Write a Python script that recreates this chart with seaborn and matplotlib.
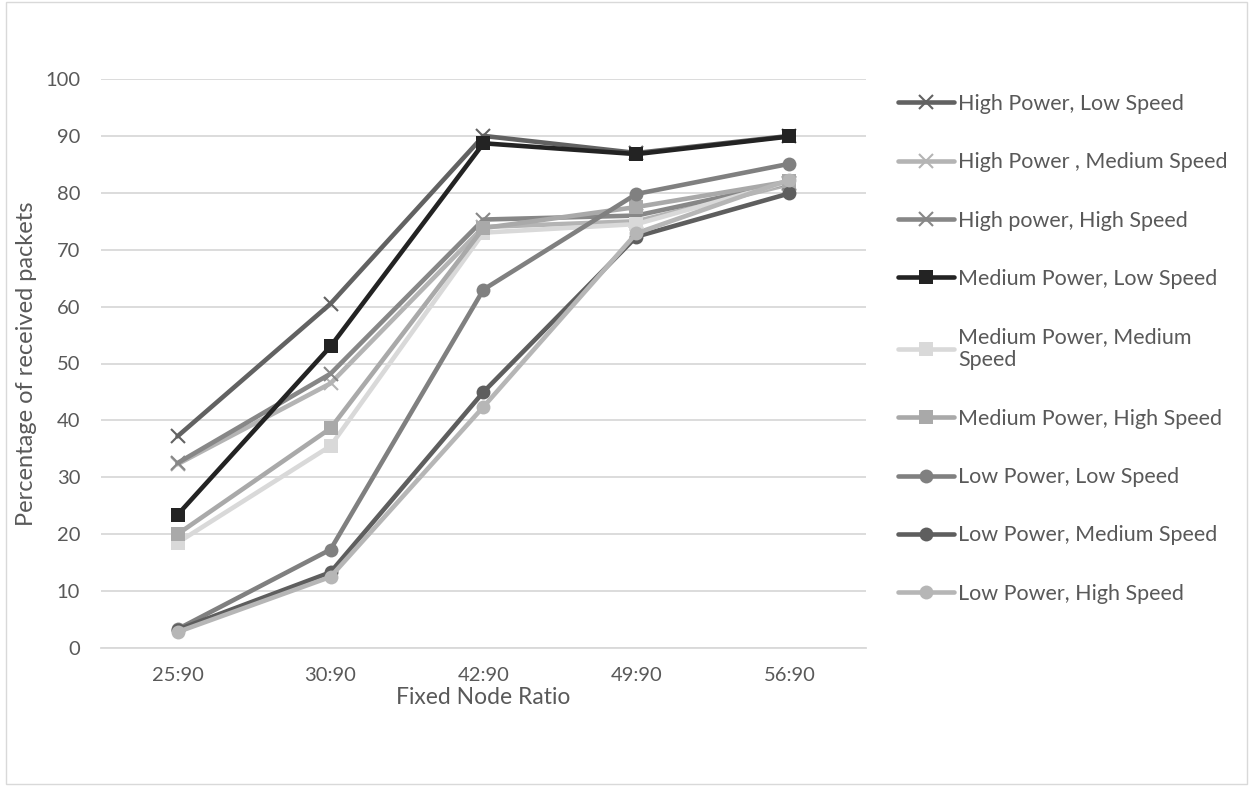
import matplotlib
matplotlib.use("Agg")
import matplotlib.pyplot as plt
import seaborn as sns
import pandas as pd
from matplotlib.patches import Rectangle

categories = ["25:90", "30:90", "42:90", "49:90", "56:90"]
series_names = [
    "High Power, Low Speed",
    "High Power , Medium Speed",
    "High power, High Speed",
    "Medium Power, Low Speed",
    "Medium Power, Medium Speed",
    "Medium Power, High Speed",
    "Low Power, Low Speed",
    "Low Power, Medium Speed",
    "Low Power, High Speed",
]
legend_labels = [
    "High Power, Low Speed",
    "High Power , Medium Speed",
    "High power, High Speed",
    "Medium Power, Low Speed",
    "Medium Power, Medium\nSpeed",
    "Medium Power, High Speed",
    "Low Power, Low Speed",
    "Low Power, Medium Speed",
    "Low Power, High Speed",
]
hp_ls = [37.2, 60.5, 90.0, 87.0, 90.0]
hp_ms = [32.3, 46.5, 74.0, 75.0, 81.5]
hp_hs = [32.5, 48.2, 75.3, 76.0, 81.8]
mp_ls = [23.4, 53.0, 88.7, 86.8, 89.9]
mp_ms = [18.5, 35.5, 73.0, 74.5, 82.0]
mp_hs = [20.0, 38.6, 73.8, 77.5, 82.0]
lp_ls = [3.3, 17.3, 63.0, 79.8, 85.1]
lp_ms = [3.2, 13.3, 45.0, 72.3, 79.9]
lp_hs = [2.8, 12.5, 42.4, 72.9, 82.3]
values = [hp_ls, hp_ms, hp_hs, mp_ls, mp_ms, mp_hs, lp_ls, lp_ms, lp_hs]

colors = ["#626262", "#b4b4b4", "#878787", "#232323", "#d9d9d9",
          "#a9a9a9", "#808080", "#5e5e5e", "#b6b6b6"]
markers = ["x", "x", "x", "s", "s", "s", "o", "o", "o"]

rows = []
for name, vals in zip(series_names, values):
    for c, v in zip(categories, vals):
        rows.append({"Series": name, "Ratio": c, "Value": v})
df = pd.DataFrame(rows)

sns.set_style("white")
plt.rcParams["font.family"] = ["Lato", "DejaVu Sans"]

fig = plt.figure(figsize=(12.51, 7.86), dpi=100)
ax = fig.add_axes([101 / 1251, 1 - 648 / 786, (866 - 101) / 1251, (648 - 79) / 786])

seaborn_markers = ["X" if m == "x" else m for m in markers]
sns.lineplot(data=df, x="Ratio", y="Value", hue="Series", style="Series",
             hue_order=series_names, style_order=series_names,
             palette=dict(zip(series_names, colors)),
             markers=dict(zip(series_names, seaborn_markers)),
             dashes=False, linewidth=3.3, markersize=9.5, legend=False,
             sort=False, ax=ax)

lines = ax.get_lines()[:9]
for ln, m in zip(lines, markers):
    c = ln.get_color()
    ln.set_marker(m)
    ln.set_markeredgecolor(c)
    ln.set_markerfacecolor(c)
    if m == "x":
        ln.set_markersize(10)
        ln.set_markeredgewidth(1.5)
    else:
        ln.set_markeredgewidth(0)
        ln.set_markersize(10.5 if m == "s" else 10)
    ln.set_solid_capstyle("round")

ax.set_xlim(-0.5, 4.5)
ax.set_ylim(0, 100)
ax.set_yticks(range(0, 101, 10))
ax.yaxis.grid(True, color="#d9d9d9", linewidth=1.3)
ax.xaxis.grid(False)
ax.set_axisbelow(True)
for s in ["left", "right", "top"]:
    ax.spines[s].set_visible(False)
ax.spines["bottom"].set_color("#d9d9d9")
ax.spines["bottom"].set_linewidth(1.3)
ax.tick_params(axis="y", length=0, pad=15, labelsize=14.5, labelcolor="#595959")
ax.tick_params(axis="x", length=0, pad=14, labelsize=14.5, labelcolor="#595959")
ax.set_xlabel("Fixed Node Ratio", fontsize=16.5, color="#595959", labelpad=2)
ax.set_ylabel("Percentage of received packets", fontsize=17, color="#595959")
ax.yaxis.set_label_coords(-(101 - 37) / 765, 0.5)

leg = ax.legend(handles=lines, labels=legend_labels, loc="upper left",
                bbox_to_anchor=(898 / 1251, 1 - 94 / 786), bbox_transform=fig.transFigure,
                frameon=False, fontsize=15.5, labelspacing=1.78, handlelength=2.6,
                handletextpad=0.2, labelcolor="#595959", borderaxespad=0,
                borderpad=0)
for h in leg.legend_handles:
    h.set_linewidth(3.3)

fig.patches.append(Rectangle((6 / 1251, 2 / 786), 1241 / 1251, 782 / 786,
                             transform=fig.transFigure, fill=False,
                             edgecolor="#d9d9d9", linewidth=1.0))

fig.savefig("out.png", dpi=100)
